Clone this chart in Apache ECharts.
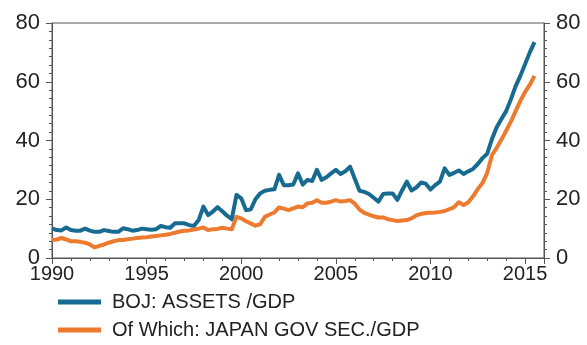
<!DOCTYPE html>
<html>
<head>
<meta charset="utf-8">
<script src="https://cdn.jsdelivr.net/npm/echarts@6/dist/echarts.min.js"></script>
<style>
  html, body { margin: 0; padding: 0; background: #ffffff; }
  #chart { width: 587px; height: 345px; }
</style>
</head>
<body>
<div id="chart"></div>
<script>
// Quarterly observations, first quarter of 1990 onwards (% of GDP)
const firstQuarter = 1990;
const seriesNames = ['BOJ: ASSETS /GDP', 'Of Which: JAPAN GOV SEC./GDP'];

const bojAssets = [
  10.1, 9.5, 9.4, 10.4,   // 1990
  9.5, 9.3, 9.3, 10.0,    // 1991
  9.3, 8.9, 8.9, 9.5,     // 1992
  9.2, 8.9, 8.9, 10.1,    // 1993
  9.8, 9.3, 9.5, 10.0,    // 1994
  9.8, 9.6, 9.8, 10.9,    // 1995
  10.5, 10.3, 11.8, 11.8, // 1996
  11.8, 11.2, 10.9, 12.9, // 1997
  17.5, 14.6, 15.8, 17.3, // 1998
  15.9, 14.4, 13.2, 21.5, // 1999
  20.3, 16.3, 16.5, 20.0, // 2000
  22.0, 22.9, 23.2, 23.4, // 2001
  28.3, 24.8, 24.8, 25.0, // 2002
  28.8, 25.0, 26.6, 26.2, // 2003
  30.0, 26.6, 27.5, 28.8, // 2004
  30.0, 28.6, 29.5, 31.1, // 2005
  27.0, 22.9, 22.5, 21.8, // 2006
  20.5, 19.2, 21.8, 22.0, // 2007
  22.0, 19.8, 23.0, 26.0, // 2008
  23.0, 24.0, 25.7, 25.3, // 2009
  23.3, 24.8, 26.0, 30.5, // 2010
  28.3, 29.0, 29.8, 28.6, // 2011
  29.5, 30.3, 32.0, 34.0, // 2012
  35.5, 40.5, 44.5, 47.3, // 2013
  50.0, 54.0, 58.5, 62.0, // 2014
  66.0, 70.0, 73.5        // 2015
];

const govSecurities = [
  6.1, 6.3, 6.8, 6.3,     // 1990
  5.7, 5.7, 5.5, 5.2,     // 1991
  4.6, 3.6, 4.1, 4.6,     // 1992
  5.2, 5.7, 6.1, 6.1,     // 1993
  6.4, 6.6, 6.8, 7.0,     // 1994
  7.1, 7.3, 7.5, 7.7,     // 1995
  7.9, 8.2, 8.6, 9.0,     // 1996
  9.3, 9.4, 9.7, 10.0,    // 1997
  10.4, 9.5, 9.8, 9.9,    // 1998
  10.3, 10.0, 9.8, 14.0,  // 1999
  13.5, 12.5, 11.8, 11.0, // 2000
  11.5, 14.0, 14.8, 15.5, // 2001
  17.2, 16.8, 16.3, 16.9, // 2002
  17.5, 17.3, 18.6, 18.8, // 2003
  19.7, 18.8, 18.8, 19.2, // 2004
  19.7, 19.2, 19.4, 19.7, // 2005
  18.5, 16.5, 15.4, 14.8, // 2006
  14.2, 13.8, 13.8, 13.2, // 2007
  12.9, 12.6, 12.8, 12.9, // 2008
  13.5, 14.5, 15.0, 15.3, // 2009
  15.4, 15.5, 15.7, 16.0, // 2010
  16.6, 17.3, 19.0, 18.0, // 2011
  19.0, 21.0, 23.5, 25.5, // 2012
  29.0, 35.0, 37.5, 40.3, // 2013
  43.3, 46.4, 50.0, 53.5, // 2014
  56.5, 59.0, 62.0        // 2015
];

const xRange = [1990, 2016];
const yRange = [0, 80];

// pair each value with its quarter position on the time axis
const toPoints = values => values.map((v, i) => [firstQuarter + i * 0.25, v]);

const axisColor = '#555555';
const labelColor = '#222222';
const fontFamily = '"Liberation Sans", Arial, sans-serif';

const yAxisBase = {
  type: 'value',
  min: yRange[0],
  max: yRange[1],
  interval: 20,
  axisLine: { show: true, lineStyle: { color: axisColor, width: 1 } },
  axisTick: { show: true, length: 6, lineStyle: { color: axisColor } },
  minorTick: { show: true, splitNumber: 7, length: 3, lineStyle: { color: axisColor } },
  splitLine: { show: false },
  axisLabel: { color: labelColor, fontSize: 22, fontFamily: fontFamily, margin: 12 }
};

const chart = echarts.init(document.getElementById('chart'), null, { renderer: 'canvas' });
chart.setOption({
  animation: false,
  backgroundColor: '#ffffff',
  grid: {
    left: 52, right: 43, top: 23, bottom: 87,
    show: true, borderColor: axisColor, borderWidth: 1
  },
  legend: {
    orient: 'vertical',
    left: 53,
    top: 287,
    height: 58,
    icon: 'rect',
    itemWidth: 43,
    itemHeight: 5,
    itemGap: 8,
    textStyle: { color: labelColor, fontSize: 20, fontFamily: fontFamily, padding: [0, 0, 0, 6] },
    data: seriesNames
  },
  xAxis: {
    type: 'value',
    min: xRange[0],
    max: xRange[1],
    interval: 5,
    axisLine: { show: true, onZero: false, lineStyle: { color: axisColor, width: 1 } },
    axisTick: { show: true, length: 6, lineStyle: { color: axisColor } },
    minorTick: { show: true, splitNumber: 5, length: 3, lineStyle: { color: axisColor } },
    splitLine: { show: false },
    axisLabel: {
      color: labelColor, fontSize: 20, fontFamily: fontFamily, margin: 6,
      formatter: v => (v % 5 === 0 ? String(v) : '')
    }
  },
  yAxis: [
    Object.assign({}, yAxisBase, { position: 'left' }),
    Object.assign({}, yAxisBase, { position: 'right' })
  ],
  series: [
    {
      name: seriesNames[0],
      type: 'line',
      data: toPoints(bojAssets),
      showSymbol: false,
      symbol: 'none',
      lineStyle: { color: '#176a90', width: 4, join: 'round' },
      itemStyle: { color: '#176a90' }
    },
    {
      name: seriesNames[1],
      type: 'line',
      data: toPoints(govSecurities),
      showSymbol: false,
      symbol: 'none',
      lineStyle: { color: '#ec7a2f', width: 4, join: 'round' },
      itemStyle: { color: '#ec7a2f' }
    }
  ]
});
</script>
</body>
</html>
